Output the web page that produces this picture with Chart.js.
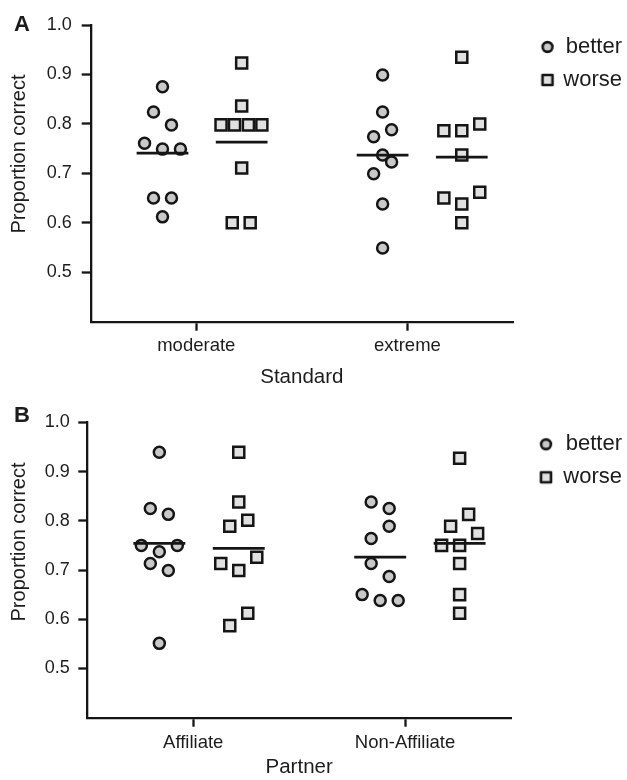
<!DOCTYPE html>
<html lang="en">
<head>
<meta charset="UTF-8">
<title>Proportion correct</title>
<style>
  body { margin: 0; background: #fff; }
  #wrap { position: relative; width: 627px; height: 780px; font-family: 'Liberation Sans', Arial, Helvetica, sans-serif; color: #1c1c1c; }
  #wrap canvas { position: absolute; left: 0; }
  .panel { position: absolute; font-weight: bold; font-size: 22px; line-height: 22px; }
  .ytitle { position: absolute; font-size: 20px; line-height: 20px; white-space: nowrap; transform: translate(-50%, -50%) rotate(-90deg); }
</style>
</head>
<body>
<div id="wrap">
  <canvas id="chartA" width="627" height="390" style="top:0"></canvas>
  <canvas id="chartB" width="627" height="390" style="top:390px"></canvas>
  <div class="panel" style="left:14px;top:13px">A</div>
  <div class="panel" style="left:14px;top:404px">B</div>
  <div class="ytitle" style="left:18px;top:154px">Proportion correct</div>
  <div class="ytitle" style="left:18px;top:542px">Proportion correct</div>
</div>
<script src="https://cdn.jsdelivr.net/npm/chart.js"></script>
<script>
const seriesNames = ['better', 'worse'];
const yTickValues = [0.5, 0.6, 0.7, 0.8, 0.9, 1.0];

// Panel A - Standard
const standardLabels = ['moderate', 'extreme'];
const moderateBetter = [0.875, 0.824, 0.798, 0.761, 0.749, 0.749, 0.650, 0.650, 0.612];
const moderateWorse = [0.923, 0.836, 0.798, 0.798, 0.798, 0.798, 0.711, 0.600, 0.600];
const extremeBetter = [0.899, 0.824, 0.788, 0.774, 0.737, 0.723, 0.699, 0.638, 0.549];
const extremeWorse = [0.935, 0.800, 0.786, 0.786, 0.737, 0.662, 0.650, 0.638, 0.600];
const standardBetterMeans = [0.741, 0.737];
const standardWorseMeans = [0.763, 0.733];

// Panel B - Partner
const partnerLabels = ['Affiliate', 'Non-Affiliate'];
const affiliateBetter = [0.939, 0.825, 0.813, 0.750, 0.750, 0.737, 0.713, 0.699, 0.551];
const affiliateWorse = [0.939, 0.838, 0.801, 0.789, 0.726, 0.713, 0.699, 0.612, 0.587];
const nonAffiliateBetter = [0.838, 0.825, 0.789, 0.764, 0.713, 0.687, 0.650, 0.638, 0.638];
const nonAffiliateWorse = [0.927, 0.813, 0.789, 0.774, 0.750, 0.750, 0.713, 0.650, 0.612];
const partnerBetterMeans = [0.754, 0.726];
const partnerWorseMeans = [0.744, 0.754];

// side-by-side slots of the dots (so overlapping values don't hide each other)
const moderateBetterSlots = [0, -1, 1, -2, 0, 2, -1, 1, 0];
const moderateWorseSlots = [0, 0, -2.3, -0.8, 0.75, 2.25, 0, -1.05, 0.95];
const extremeBetterSlots = [0, 0, 1, -1, 0, 1, -1, 0, 0];
const extremeWorseSlots = [0, 2, -2, 0, 0, 2, -2, 0, 0];
const affiliateBetterSlots = [0, -1, 1, -2, 2, 0, -1, 1, 0];
const affiliateWorseSlots = [0, 0, 1, -1, 2, -2, 0, 1, -1];
const nonAffiliateBetterSlots = [-1, 1, 1, -1, -1, 1, -2, 0, 2];
const nonAffiliateWorseSlots = [0, 1, -1, 2, -2, 0, 0, 0, 0];

// layout of the x axis (0..4, categories at 1 and 3)
const tickPositions = [1, 3];
const groupOffsets = [[-0.32, 0.43], [-0.235, 0.515]];
const jitterStep = 0.085;
const meanHalfWidth = 0.245;

const fontFamily = "'Liberation Sans', Arial, Helvetica, sans-serif";
const ink = '#151515';
const textColor = '#1c1c1c';
const legendFontSize = 22;
const legendPad = 11;

Chart.defaults.font.family = fontFamily;
Chart.defaults.color = textColor;

function toPoints(values, slots, cat, series) {
    const base = tickPositions[cat] + groupOffsets[cat][series];
    return values.map((v, i) => ({ x: base + slots[i] * jitterStep, y: v }));
}

function meanLine(mean, cat, series) {
    const c = tickPositions[cat] + groupOffsets[cat][series];
    return {
        data: [{ x: c - meanHalfWidth, y: mean }, { x: c + meanHalfWidth, y: mean }],
        showLine: true,
        borderColor: ink,
        borderWidth: 2.7,
        pointRadius: 0,
        order: 0
    };
}

// small marker picture for the legend, drawn shifted right inside the image
function legendMarker(shape, fill, shift) {
    const w = Math.ceil(2 * shift + 18);
    const c = document.createElement('canvas');
    c.width = w;
    c.height = 18;
    const g = c.getContext('2d');
    const cx = w / 2 + shift;
    g.fillStyle = fill;
    g.strokeStyle = ink;
    g.lineWidth = 2.6;
    g.lineJoin = 'round';
    g.beginPath();
    if (shape === 'circle') {
        g.arc(cx, 9, 4.9, 0, Math.PI * 2);
    } else {
        g.rect(cx - 5, 9 - 5, 10, 10);
    }
    g.fill();
    g.stroke();
    return c;
}

function textWidth(size) {
    const g = document.createElement('canvas').getContext('2d');
    g.font = size + 'px ' + fontFamily;
    return Math.max(...seriesNames.map(n => g.measureText(n).width));
}

function makeChart(id, p) {
    const rightPad = 5;
    const legendWidth = 627 - rightPad - p.chartRight;
    const boxWidth = legendWidth - legendPad - 10 - legendFontSize / 2 - textWidth(legendFontSize);
    const shift = p.markerX - (p.chartRight + legendPad + boxWidth / 2);
    const markers = [legendMarker('circle', '#c9c9c9', shift), legendMarker('rect', '#e1e1e1', shift)];

    const datasets = [
        {
            label: seriesNames[0],
            data: toPoints(p.better[0], p.betterSlots[0], 0, 0).concat(toPoints(p.better[1], p.betterSlots[1], 1, 0)),
            pointStyle: 'circle',
            pointRadius: 5.5,
            pointBorderWidth: 2.5,
            backgroundColor: '#c9c9c9',
            borderColor: ink,
            order: 1
        },
        {
            label: seriesNames[1],
            data: toPoints(p.worse[0], p.worseSlots[0], 0, 1).concat(toPoints(p.worse[1], p.worseSlots[1], 1, 1)),
            pointStyle: 'rect',
            pointRadius: 7.8,
            pointBorderWidth: 2.5,
            backgroundColor: '#e1e1e1',
            borderColor: ink,
            order: 1
        }
    ];
    for (let c = 0; c < 2; c++) {
        datasets.push(meanLine(p.betterMeans[c], c, 0));
        datasets.push(meanLine(p.worseMeans[c], c, 1));
    }

    return new Chart(document.getElementById(id), {
        type: 'scatter',
        data: { datasets },
        options: {
            responsive: false,
            animation: false,
            devicePixelRatio: 1,
            layout: { padding: { top: p.top, left: 0, right: rightPad, bottom: 0 } },
            plugins: {
                tooltip: { enabled: false },
                legend: {
                    position: 'right',
                    align: 'start',
                    labels: {
                        usePointStyle: true,
                        boxWidth: boxWidth,
                        boxHeight: 12,
                        padding: legendPad,
                        textAlign: 'right',
                        color: textColor,
                        font: { size: legendFontSize },
                        generateLabels: chart => {
                            const items = Chart.defaults.plugins.legend.labels.generateLabels(chart)
                                .filter(it => it.datasetIndex < 2)
                                .sort((a, b) => a.datasetIndex - b.datasetIndex);
                            items.forEach(it => { it.pointStyle = markers[it.datasetIndex]; });
                            return items;
                        }
                    }
                }
            },
            scales: {
                x: {
                    type: 'linear',
                    min: 0,
                    max: 4,
                    afterBuildTicks: s => { s.ticks = tickPositions.map(v => ({ value: v })); },
                    afterFit: s => { s.height = p.xHeight; },
                    ticks: {
                        callback: (v, i) => p.labels[i],
                        font: { size: 18.5 },
                        padding: p.xTickPad,
                        color: textColor
                    },
                    grid: { drawOnChartArea: false, tickLength: 9, tickWidth: 2.3, tickColor: ink },
                    border: { display: true, width: 2.3, color: ink },
                    title: { display: true, text: p.title, font: { size: 20.5 }, padding: 0, color: textColor }
                },
                y: {
                    min: 0.4,
                    max: 1.0,
                    afterBuildTicks: s => { s.ticks = yTickValues.map(v => ({ value: v })); },
                    afterFit: s => { s.width = p.yWidth; },
                    ticks: {
                        callback: v => v.toFixed(1),
                        font: { size: 18 },
                        padding: p.yTickPad,
                        color: textColor
                    },
                    grid: { drawOnChartArea: false, tickLength: 9, tickWidth: 2.3, tickColor: ink },
                    border: { display: true, width: 2.3, color: ink }
                }
            }
        }
    });
}

makeChart('chartA', {
    labels: standardLabels,
    title: 'Standard',
    better: [moderateBetter, extremeBetter],
    worse: [moderateWorse, extremeWorse],
    betterSlots: [moderateBetterSlots, extremeBetterSlots],
    worseSlots: [moderateWorseSlots, extremeWorseSlots],
    betterMeans: standardBetterMeans,
    worseMeans: standardWorseMeans,
    top: 25,
    yWidth: 90.7,
    xHeight: 68.3,
    chartRight: 513,
    markerX: 547.5,
    yTickPad: 10,
    xTickPad: 4
});

makeChart('chartB', {
    labels: partnerLabels,
    title: 'Partner',
    better: [affiliateBetter, nonAffiliateBetter],
    worse: [affiliateWorse, nonAffiliateWorse],
    betterSlots: [affiliateBetterSlots, nonAffiliateBetterSlots],
    worseSlots: [affiliateWorseSlots, nonAffiliateWorseSlots],
    betterMeans: partnerBetterMeans,
    worseMeans: partnerWorseMeans,
    top: 32.3,
    yWidth: 87.3,
    xHeight: 62.3,
    chartRight: 511,
    markerX: 546,
    yTickPad: 8.5,
    xTickPad: 5
});
</script>
</body>
</html>
